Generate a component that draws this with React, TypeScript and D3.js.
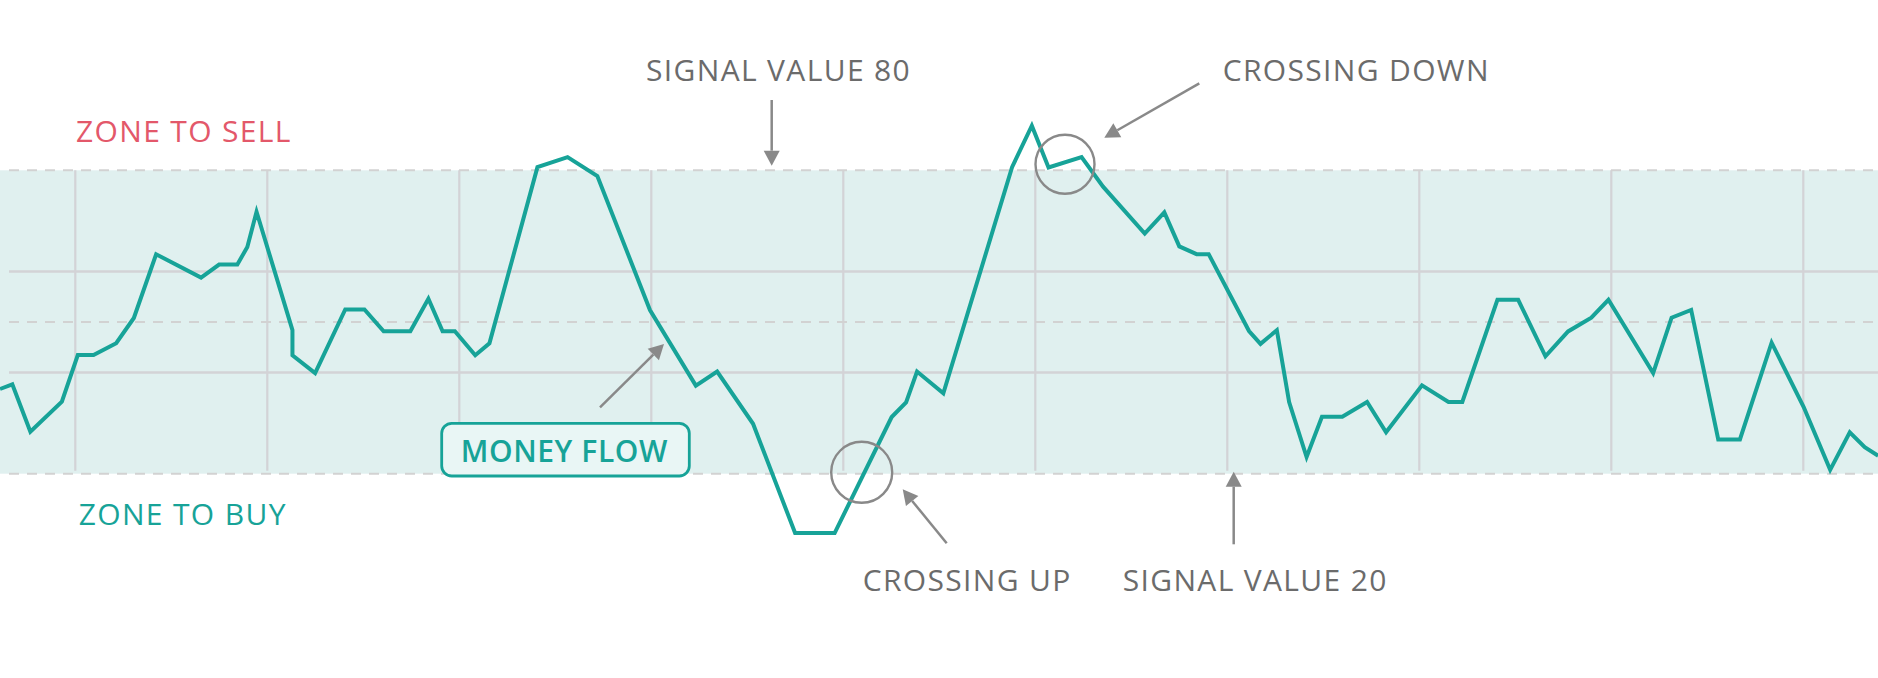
import React from 'react';
import * as d3 from 'd3';

// ---------- data ----------
const periods: number[] = [-3.92, -3.28, -2.34, -0.7, 0.13, 0.95, 2.13, 3.05, 4.21, 6.55, 7.49, 8.44, 8.96, 9.44, 11.31, 11.31, 12.49, 14.06, 15.06, 16.06, 17.45, 18.39, 19.13, 19.77, 20.83, 21.57, 24.07, 25.64, 27.19, 29.93, 32.32, 33.43, 35.3, 37.49, 39.55, 42.52, 43.27, 43.84, 45.21, 48.79, 49.82, 50.69, 52.41, 53.53, 55.7, 56.72, 57.5, 58.4, 59.03, 61.13, 61.73, 62.58, 63.22, 64.13, 64.93, 65.99, 67.28, 68.27, 70.14, 71.52, 72.24, 74.07, 75.15, 76.57, 77.75, 78.96, 79.85, 82.18, 83.14, 84.16, 85.57, 86.7, 88.35, 90.02, 91.4, 92.42, 93.2, 93.9];
const moneyFlow: number[] = [36.75, 37.66, 28.29, 34.26, 43.45, 43.45, 45.81, 50.79, 63.39, 58.78, 61.35, 61.35, 64.85, 71.8, 48.4, 43.41, 39.89, 52.47, 52.47, 48.16, 48.16, 54.59, 48.16, 48.16, 43.43, 45.77, 80.63, 82.61, 78.87, 52.37, 37.42, 40.21, 29.87, 8.27, 8.27, 31.21, 34.1, 40.21, 35.88, 80.61, 88.82, 80.55, 82.63, 76.76, 67.5, 71.67, 64.95, 63.41, 63.41, 48.22, 45.67, 48.38, 34.18, 23.3, 31.25, 31.25, 34.18, 28.19, 37.48, 34.18, 34.18, 54.39, 54.39, 43.22, 48.14, 50.85, 54.39, 39.89, 50.85, 52.39, 26.78, 26.78, 45.91, 33.19, 20.77, 28.17, 25.24, 23.54];

const gridPeriods: number[] = [0, 10, 20, 30, 40, 50, 60, 70, 80, 90];
const solidLevels: number[] = [60, 40];
const dashedLevels: number[] = [80, 50, 20];
const sellLevel = 80;
const buyLevel = 20;

const labelSell = 'ZONE TO SELL';
const labelBuy = 'ZONE TO BUY';
const labelSignal80 = 'SIGNAL VALUE 80';
const labelSignal20 = 'SIGNAL VALUE 20';
const labelCrossDown = 'CROSSING DOWN';
const labelCrossUp = 'CROSSING UP';
const labelMoneyFlow = 'MONEY FLOW';

// ---------- layout ----------
const W = 1878;
const H = 678;
const TEAL = '#17a398';
const RED = '#e3586a';
const GRAY_TXT = '#6b6b6b';
const GRAY_ARW = '#898989';
const FONT = "'Open Sans', 'Noto Sans', sans-serif";

const x = d3.scaleLinear().domain([0, 90]).range([75.3, 1803.3]);
const y = d3.scaleLinear().domain([20, 80]).range([473.7, 170.3]);

function Arrow({ x1, y1, x2, y2 }: { x1: number; y1: number; x2: number; y2: number }) {
  const ang = Math.atan2(y2 - y1, x2 - x1);
  const len = 15;
  const hw = 8;
  const bx = x2 - len * Math.cos(ang);
  const by = y2 - len * Math.sin(ang);
  const px = -Math.sin(ang) * hw;
  const py = Math.cos(ang) * hw;
  return (
    <g>
      <line x1={x1} y1={y1} x2={bx} y2={by} stroke={GRAY_ARW} strokeWidth={2.5} />
      <polygon points={`${x2},${y2} ${bx + px},${by + py} ${bx - px},${by - py}`} fill={GRAY_ARW} />
    </g>
  );
}

export default function App() {
  const pts: [number, number][] = periods.map((p, i) => [p, moneyFlow[i]]);
  const path = d3.line<[number, number]>().x((d) => x(d[0])).y((d) => y(d[1]))(pts) || '';
  const txt = { fontFamily: FONT, fontSize: 30, letterSpacing: 1.35 } as const;

  return (
    <svg width={W} height={H} style={{ position: 'absolute', left: 0, top: 0, display: 'block', background: '#fff' }}>
      <rect x={0} y={y(sellLevel)} width={W} height={y(buyLevel) - y(sellLevel)} fill="#e0f0ef" />
      {gridPeriods.map((g) => (
        <line key={'v' + g} x1={x(g)} x2={x(g)} y1={y(sellLevel)} y2={y(buyLevel) - 3} stroke="#d3d3d6" strokeWidth={2.2} />
      ))}
      {solidLevels.map((l) => (
        <line key={'s' + l} x1={9} x2={W} y1={y(l)} y2={y(l)} stroke="#d3d3d6" strokeWidth={2.5} />
      ))}
      {dashedLevels.map((l) => (
        <line key={'d' + l} x1={9} x2={W} y1={y(l)} y2={y(l)} stroke="#d2d2d2" strokeWidth={2} strokeDasharray="10 8" />
      ))}

      <path d={path} fill="none" stroke={TEAL} strokeWidth={4} strokeLinejoin="miter" />

      {/* annotations */}
      <circle cx={861.7} cy={472.3} r={30.5} fill="none" stroke={GRAY_ARW} strokeWidth={2.4} />
      <circle cx={1065} cy={164.3} r={29.5} fill="none" stroke={GRAY_ARW} strokeWidth={2.4} />
      <Arrow x1={771.7} y1={100} x2={771.7} y2={165.7} />
      <Arrow x1={1199.3} y1={83.3} x2={1104.3} y2={137.7} />
      <Arrow x1={946.7} y1={543.3} x2={902.7} y2={489.3} />
      <Arrow x1={1233.7} y1={544.3} x2={1233.7} y2={471.7} />
      <Arrow x1={600} y1={407.3} x2={664} y2={344} />

      <rect x={441.7} y={423.3} width={247.6} height={52.7} rx={10} ry={10} fill="#e9f6f5" stroke={TEAL} strokeWidth={2.8} />
      <text x={460.7} y={462} fill={TEAL} {...txt} fontWeight={600} letterSpacing={0.6}>{labelMoneyFlow}</text>

      <text x={76} y={141.5} fill={RED} {...txt}>{labelSell}</text>
      <text x={78.7} y={525.3} fill={TEAL} {...txt}>{labelBuy}</text>
      <text x={646} y={81} fill={GRAY_TXT} {...txt}>{labelSignal80}</text>
      <text x={1222.7} y={81.3} fill={GRAY_TXT} {...txt}>{labelCrossDown}</text>
      <text x={862.7} y={591} fill={GRAY_TXT} {...txt}>{labelCrossUp}</text>
      <text x={1122.7} y={591} fill={GRAY_TXT} {...txt}>{labelSignal20}</text>
    </svg>
  );
}
